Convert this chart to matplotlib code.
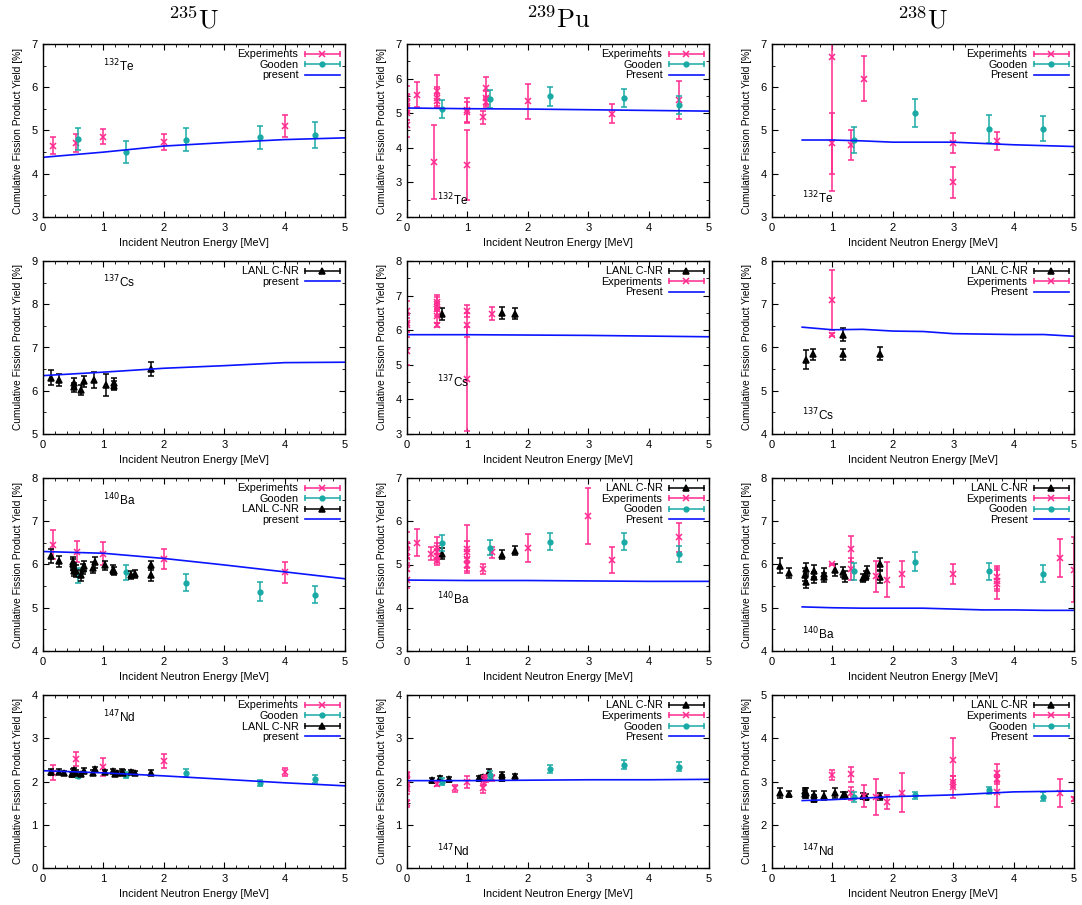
import matplotlib
matplotlib.use("Agg")
import matplotlib.pyplot as plt
from matplotlib.lines import Line2D
from matplotlib.legend_handler import HandlerLine2D, HandlerTuple
from matplotlib.ticker import MultipleLocator, AutoMinorLocator

plt.rcParams['font.family'] = ['Liberation Sans', 'DejaVu Sans']

# ---- data: (energy MeV, yield %, error) ----
# 132Te
u235_te_exp = ([0.16, 0.55, 1.0, 2.0, 4.0], [4.65, 4.71, 4.86, 4.73, 5.1], [0.2, 0.2, 0.18, 0.18, 0.25])
u235_te_gooden = ([0.58, 1.37, 2.37, 3.6, 4.5], [4.8, 4.5, 4.79, 4.84, 4.9], [0.25, 0.25, 0.26, 0.27, 0.3])
u235_te_present = ([0, 1, 2, 3, 4, 5], [4.38, 4.5, 4.64, 4.72, 4.79, 4.83])

pu239_te_exp = ([0, 0, 0, 0, 0, 0, 0.17, 0.45, 0.5, 0.5, 0.5, 1.0, 1.0, 1.0, 1.25, 1.3, 1.3, 1.3, 2.0, 3.4, 4.5],
                [5.48, 5.3, 5.2, 5.1, 5.0, 4.65, 5.53, 3.59, 5.65, 5.45, 5.35, 5.1, 5.03, 3.5, 4.88, 5.72, 5.45, 5.33, 5.34, 4.99, 5.38],
                [0.3, 0.25, 0.2, 0.3, 0.2, 0.35, 0.36, 1.07, 0.45, 0.3, 0.2, 0.35, 0.3, 1.0, 0.18, 0.32, 0.2, 0.15, 0.5, 0.27, 0.55])
pu239_te_gooden = ([0.58, 1.37, 2.37, 3.6, 4.5], [5.12, 5.42, 5.49, 5.43, 5.24], [0.25, 0.26, 0.27, 0.26, 0.26])
pu239_te_present = ([0, 1, 2, 3, 4, 5], [5.15, 5.13, 5.12, 5.1, 5.08, 5.06])

u238_te_exp = ([1.0, 1.0, 1.31, 1.52, 3.0, 3.0, 3.72], [6.7, 4.7, 4.66, 6.2, 4.71, 3.8, 4.76],
               [3.1, 0.7, 0.35, 0.52, 0.23, 0.35, 0.2])
u238_te_gooden = ([1.36, 2.37, 3.6, 4.48], [4.77, 5.4, 5.03, 5.04], [0.3, 0.32, 0.32, 0.29])
u238_te_present = ([0.5, 1, 1.5, 2, 2.5, 3, 3.5, 4, 4.5, 5],
                   [4.78, 4.78, 4.76, 4.73, 4.73, 4.73, 4.7, 4.67, 4.65, 4.63])

# 137Cs
u235_cs_lanl = ([0.14, 0.26, 0.52, 0.52, 0.63, 0.68, 0.85, 1.04, 1.17, 1.17, 1.79],
                [6.3, 6.25, 6.18, 6.08, 6.02, 6.22, 6.25, 6.13, 6.17, 6.12, 6.5],
                [0.17, 0.13, 0.12, 0.1, 0.12, 0.13, 0.18, 0.25, 0.12, 0.1, 0.17])
u235_cs_present = ([0, 1, 2, 3, 4, 5], [6.35, 6.43, 6.52, 6.58, 6.65, 6.66])

pu239_cs_lanl = ([0.58, 1.58, 1.79], [6.47, 6.49, 6.47], [0.17, 0.18, 0.16])
pu239_cs_exp = ([0, 0, 0, 0, 0.5, 0.5, 0.5, 0.5, 0.5, 1.0, 1.0, 1.0, 1.4],
                [6.55, 6.2, 6.15, 5.4, 6.82, 6.75, 6.6, 6.4, 6.15, 6.55, 6.15, 4.6, 6.48],
                [0.3, 0.25, 0.2, 0.4, 0.2, 0.2, 0.2, 0.2, 0.07, 0.17, 0.35, 1.5, 0.18])
pu239_cs_present = ([0, 1, 2, 3, 4, 5], [5.87, 5.87, 5.86, 5.85, 5.83, 5.81])

u238_cs_lanl = ([0.56, 0.68, 1.18, 1.18, 1.79], [5.72, 5.84, 6.29, 5.84, 5.85], [0.22, 0.13, 0.15, 0.13, 0.15])
u238_cs_exp = ([1.0, 1.0], [7.1, 6.3], [0.7, 0.03])
u238_cs_present = ([0.5, 1, 1.5, 2, 2.5, 3, 3.5, 4, 4.5, 5],
                   [6.47, 6.41, 6.42, 6.38, 6.37, 6.32, 6.31, 6.3, 6.3, 6.26])

# 140Ba
u235_ba_exp = ([0.17, 0.56, 1.0, 2.0, 4.0], [6.46, 6.3, 6.25, 6.13, 5.82], [0.34, 0.25, 0.27, 0.23, 0.24])
u235_ba_gooden = ([0.58, 1.37, 2.37, 3.6, 4.5], [5.75, 5.82, 5.58, 5.37, 5.3], [0.17, 0.17, 0.19, 0.22, 0.2])
u235_ba_lanl = ([0.14, 0.26, 0.5, 0.5, 0.52, 0.52, 0.55, 0.63, 0.66, 0.68, 0.83, 0.86, 1.02, 1.16, 1.17, 1.45, 1.53, 1.78, 1.78],
                [6.2, 6.07, 6.0, 6.05, 5.92, 5.86, 5.85, 5.75, 5.9, 5.97, 5.93, 6.05, 5.98, 5.88, 5.85, 5.76, 5.78, 5.98, 5.76],
                [0.16, 0.12, 0.12, 0.12, 0.12, 0.12, 0.13, 0.12, 0.12, 0.12, 0.12, 0.12, 0.1, 0.1, 0.1, 0.1, 0.1, 0.1, 0.15])
u235_ba_present = ([0, 1, 2, 3, 4, 5], [6.3, 6.26, 6.14, 5.99, 5.83, 5.67])

pu239_ba_lanl = ([0.58, 1.58, 1.79], [5.25, 5.23, 5.32], [0.12, 0.1, 0.1])
pu239_ba_exp = ([0, 0, 0, 0, 0, 0.17, 0.4, 0.5, 0.5, 0.5, 0.5, 1.0, 1.0, 1.0, 1.0, 1.25, 1.4, 2.0, 3.0, 3.4, 4.5],
                [5.45, 5.28, 5.18, 4.9, 4.65, 5.5, 5.25, 5.38, 5.3, 5.2, 5.07, 5.36, 5.3, 5.12, 5.0, 4.9, 5.28, 5.38, 6.12, 5.1, 5.63],
                [0.3, 0.25, 0.2, 0.25, 0.2, 0.31, 0.15, 0.25, 0.2, 0.15, 0.08, 0.55, 0.25, 0.2, 0.15, 0.12, 0.12, 0.32, 0.65, 0.3, 0.33])
pu239_ba_gooden = ([0.58, 1.37, 2.37, 3.6, 4.5], [5.5, 5.39, 5.53, 5.53, 5.24], [0.18, 0.18, 0.19, 0.19, 0.18])
pu239_ba_present = ([0, 1, 2, 3, 4, 5], [4.64, 4.63, 4.63, 4.62, 4.61, 4.61])

u238_ba_lanl = ([0.14, 0.28, 0.54, 0.56, 0.56, 0.69, 0.69, 0.86, 0.86, 1.04, 1.18, 1.21, 1.5, 1.55, 1.58, 1.78, 1.78],
                [5.97, 5.8, 5.76, 5.9, 5.6, 5.84, 5.7, 5.79, 5.7, 5.87, 5.82, 5.73, 5.69, 5.74, 5.85, 6.0, 5.72],
                [0.17, 0.12, 0.15, 0.13, 0.14, 0.14, 0.12, 0.12, 0.1, 0.13, 0.12, 0.13, 0.1, 0.1, 0.12, 0.15, 0.15])
u238_ba_exp = ([1.0, 1.31, 1.31, 1.72, 1.9, 2.15, 3.0, 3.72, 3.72, 3.72, 4.77, 5.0],
               [6.0, 6.35, 5.9, 5.73, 5.65, 5.77, 5.78, 5.7, 5.63, 5.56, 6.15, 5.88],
               [0.02, 0.3, 0.25, 0.36, 0.4, 0.3, 0.22, 0.27, 0.25, 0.35, 0.45, 0.75])
u238_ba_gooden = ([1.36, 2.37, 3.6, 4.48], [5.84, 6.06, 5.84, 5.79], [0.2, 0.22, 0.2, 0.2])
u238_ba_present = ([0.5, 1, 1.5, 2, 2.5, 3, 3.5, 4, 4.5, 5],
                   [5.02, 5.0, 4.99, 4.99, 4.99, 4.97, 4.95, 4.95, 4.94, 4.94])

# 147Nd
u235_nd_exp = ([0.16, 0.55, 1.0, 2.0, 4.0], [2.2, 2.52, 2.34, 2.47, 2.22], [0.17, 0.16, 0.21, 0.16, 0.1])
u235_nd_gooden = ([0.58, 1.37, 2.37, 3.6, 4.5], [2.13, 2.15, 2.2, 1.96, 2.06], [0.05, 0.06, 0.1, 0.07, 0.1])
u235_nd_lanl = ([0.14, 0.26, 0.35, 0.48, 0.5, 0.52, 0.55, 0.63, 0.68, 0.83, 0.86, 1.02, 1.16, 1.2, 1.22, 1.3, 1.33, 1.45, 1.53, 1.78],
                [2.22, 2.23, 2.2, 2.17, 2.22, 2.27, 2.2, 2.17, 2.25, 2.2, 2.28, 2.22, 2.25, 2.17, 2.2, 2.23, 2.2, 2.22, 2.2, 2.2],
                [0.07, 0.05, 0.05, 0.06, 0.06, 0.05, 0.06, 0.05, 0.06, 0.06, 0.05, 0.05, 0.05, 0.05, 0.05, 0.06, 0.06, 0.05, 0.05, 0.06])
u235_nd_present = ([0, 1, 2, 3, 4, 5], [2.25, 2.2, 2.13, 2.05, 1.97, 1.9])

pu239_nd_lanl = ([0.42, 0.55, 0.7, 1.2, 1.25, 1.35, 1.58, 1.58, 1.79],
                 [2.03, 2.07, 2.05, 2.07, 2.1, 2.23, 2.15, 2.08, 2.12],
                 [0.06, 0.06, 0.06, 0.06, 0.06, 0.07, 0.06, 0.06, 0.06])
pu239_nd_exp = ([0, 0, 0, 0, 0, 0.5, 0.8, 1.0, 1.25, 1.28, 1.3, 1.4],
                [2.15, 2.05, 1.95, 1.82, 1.5, 1.94, 1.84, 1.99, 1.84, 2.03, 2.08, 2.08],
                [0.08, 0.1, 0.12, 0.1, 0.08, 0.05, 0.08, 0.13, 0.1, 0.1, 0.08, 0.06])
pu239_nd_gooden = ([0.58, 1.37, 2.37, 3.6, 4.5], [2.0, 2.15, 2.29, 2.39, 2.34], [0.08, 0.1, 0.1, 0.1, 0.1])
pu239_nd_present = ([0, 1, 2, 3, 4, 5], [2.02, 2.02, 2.03, 2.04, 2.04, 2.05])

u238_nd_lanl = ([0.14, 0.28, 0.54, 0.54, 0.56, 0.69, 0.69, 0.86, 1.04, 1.18, 1.21, 1.5, 1.55, 1.79],
                [2.73, 2.71, 2.71, 2.77, 2.73, 2.69, 2.6, 2.67, 2.73, 2.67, 2.69, 2.67, 2.64, 2.66],
                [0.12, 0.07, 0.1, 0.08, 0.12, 0.1, 0.08, 0.1, 0.12, 0.08, 0.07, 0.07, 0.07, 0.08])
u238_nd_exp = ([1.0, 1.31, 1.31, 1.52, 1.72, 1.9, 2.15, 3.0, 3.0, 3.0, 3.72, 3.72, 3.72, 4.77, 5.0],
               [3.15, 3.17, 2.73, 2.66, 2.64, 2.52, 2.74, 3.5, 3.0, 2.88, 3.2, 3.05, 2.76, 2.73, 2.6],
               [0.12, 0.17, 0.15, 0.25, 0.42, 0.16, 0.45, 0.5, 0.12, 0.25, 0.2, 0.1, 0.35, 0.33, 0.05])
u238_nd_gooden = ([1.36, 2.37, 3.6, 4.48], [2.64, 2.68, 2.8, 2.65], [0.12, 0.08, 0.08, 0.1])
u238_nd_present = ([0.5, 1, 2, 3, 4, 5], [2.56, 2.58, 2.65, 2.69, 2.76, 2.78])

targets = [r'$^{235}\mathrm{U}$', r'$^{239}\mathrm{Pu}$', r'$^{238}\mathrm{U}$']

# styles
PINK = '#ff2a8f'
TEAL = '#1aaaa6'
BLUE = '#0a14ff'
STYLE = {
    'Experiments': dict(color=PINK, marker='x', ms=3.8),
    'Gooden': dict(color=TEAL, marker='o', ms=3.4),
    'LANL C-NR': dict(color='black', marker='^', ms=3.8),
}

# panel layout (pixels of the 1082x905 figure)
W, H = 1082, 905
col_left = [43, 407, 772]
row_top = [44, 261, 478, 695]
ax_w, ax_h = 302, 173

panels = [
    # row, col, ylim, series (order = legend order), present, label, iso text, iso pos
    (0, 0, (3, 7), [('Experiments', u235_te_exp), ('Gooden', u235_te_gooden)], u235_te_present, 'present', '132', 'Te', (0.2, 0.87)),
    (0, 1, (2, 7), [('Experiments', pu239_te_exp), ('Gooden', pu239_te_gooden)], pu239_te_present, 'Present', '132', 'Te', (0.1, 0.1)),
    (0, 2, (3, 7), [('Experiments', u238_te_exp), ('Gooden', u238_te_gooden)], u238_te_present, 'Present', '132', 'Te', (0.1, 0.11)),
    (1, 0, (5, 9), [('LANL C-NR', u235_cs_lanl)], u235_cs_present, 'present', '137', 'Cs', (0.2, 0.88)),
    (1, 1, (3, 8), [('LANL C-NR', pu239_cs_lanl), ('Experiments', pu239_cs_exp)], pu239_cs_present, 'Present', '137', 'Cs', (0.1, 0.3)),
    (1, 2, (4, 8), [('LANL C-NR', u238_cs_lanl), ('Experiments', u238_cs_exp)], u238_cs_present, 'Present', '137', 'Cs', (0.1, 0.11)),
    (2, 0, (4, 8), [('Experiments', u235_ba_exp), ('Gooden', u235_ba_gooden), ('LANL C-NR', u235_ba_lanl)], u235_ba_present, 'present', '140', 'Ba', (0.2, 0.87)),
    (2, 1, (3, 7), [('LANL C-NR', pu239_ba_lanl), ('Experiments', pu239_ba_exp), ('Gooden', pu239_ba_gooden)], pu239_ba_present, 'Present', '140', 'Ba', (0.1, 0.3)),
    (2, 2, (4, 8), [('LANL C-NR', u238_ba_lanl), ('Experiments', u238_ba_exp), ('Gooden', u238_ba_gooden)], u238_ba_present, 'Present', '140', 'Ba', (0.1, 0.1)),
    (3, 0, (0, 4), [('Experiments', u235_nd_exp), ('Gooden', u235_nd_gooden), ('LANL C-NR', u235_nd_lanl)], u235_nd_present, 'present', '147', 'Nd', (0.2, 0.87)),
    (3, 1, (0, 4), [('LANL C-NR', pu239_nd_lanl), ('Experiments', pu239_nd_exp), ('Gooden', pu239_nd_gooden)], pu239_nd_present, 'Present', '147', 'Nd', (0.1, 0.1)),
    (3, 2, (1, 5), [('LANL C-NR', u238_nd_lanl), ('Experiments', u238_nd_exp), ('Gooden', u238_nd_gooden)], u238_nd_present, 'Present', '147', 'Nd', (0.1, 0.1)),
]

fig = plt.figure(figsize=(W / 100, H / 100), dpi=100)

for row, col, ylim, series, present, plabel, mass, elem, ipos in panels:
    ax = fig.add_axes([col_left[col] / W, 1 - (row_top[row] + ax_h) / H, ax_w / W, ax_h / H])
    handles, labels, hmap = [], [], {}
    for name, (e, y, dy) in series:
        st = STYLE[name]
        ax.errorbar(e, y, yerr=dy, fmt='none', ecolor=st['color'], elinewidth=1.1, capsize=2.3, capthick=1.1)
        ax.plot(e, y, ls='none', marker=st['marker'], color=st['color'], ms=st['ms'], mew=1.1)
        bar = Line2D([], [], color=st['color'], lw=1.1, marker='|', ms=5, mew=1.1)
        dot = Line2D([], [], ls='none', color=st['color'], marker=st['marker'], ms=st['ms'], mew=1.1)
        hmap[bar] = HandlerLine2D(numpoints=2, marker_pad=0)
        hmap[dot] = HandlerLine2D(numpoints=1)
        handles.append((bar, dot))
        labels.append(name)
    pl, = ax.plot(present[0], present[1], color=BLUE, lw=1.2)
    handles.append(pl)
    labels.append(plabel)
    hmap[tuple] = HandlerTuple(ndivide=1)

    ax.set_xlim(0, 5)
    ax.set_ylim(*ylim)
    ax.xaxis.set_major_locator(MultipleLocator(1))
    ax.xaxis.set_minor_locator(MultipleLocator(0.2))
    ax.yaxis.set_major_locator(MultipleLocator(1))
    ax.yaxis.set_minor_locator(AutoMinorLocator(2))
    ax.tick_params(which='both', direction='in', top=True, right=True, labelsize=8, pad=4)
    ax.tick_params(which='major', length=4, width=0.8)
    ax.tick_params(which='minor', length=2, width=0.6)
    for s in ax.spines.values():
        s.set_linewidth(1.0)
    ax.set_xlabel('Incident Neutron Energy [MeV]', fontsize=7.8)
    ax.set_ylabel('Cumulative Fission Product Yield [%]', fontsize=7.3, labelpad=6)

    ax.legend(handles, labels, handler_map=hmap, loc='upper right', frameon=False,
              markerfirst=False, fontsize=7.8, handlelength=3.2, handletextpad=0.6,
              labelspacing=0.05, borderaxespad=0.2, borderpad=0.3)

    ax.text(ipos[0], ipos[1], r'$^{%s}$%s' % (mass, elem), transform=ax.transAxes,
            ha='left', va='center', fontsize=8.5)

for col, t in enumerate(targets):
    xc = (col_left[col] + ax_w / 2) / W
    fig.text(xc, 1 - 20 / H, t, ha='center', va='center', fontsize=19, math_fontfamily='cm')

fig.savefig('out.png', dpi=100)
